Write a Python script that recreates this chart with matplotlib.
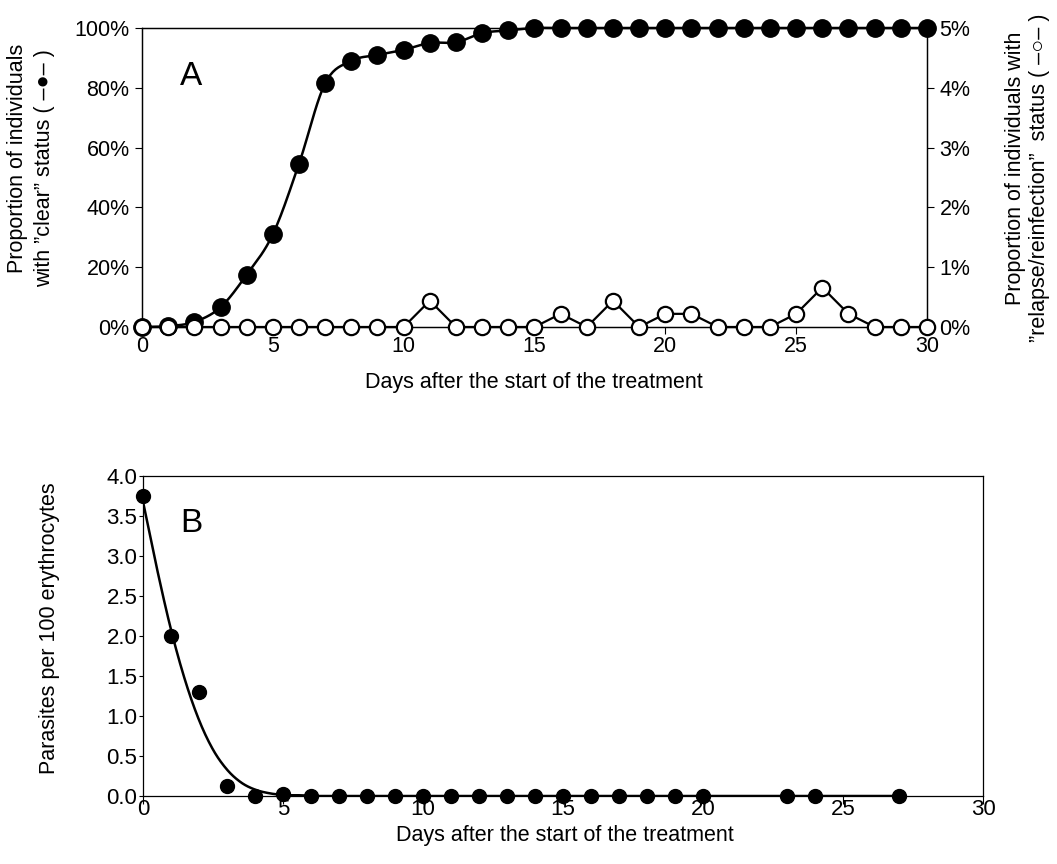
import numpy as np
import matplotlib
matplotlib.use('Agg')
import matplotlib.pyplot as plt
from matplotlib.ticker import PercentFormatter

plt.rcParams['font.family'] = ['Liberation Sans', 'DejaVu Sans']
plt.rcParams['font.size'] = 15.5

# panel A data: proportion "clear" (left axis) and "relapse/reinfection" (right axis), in %
days_a = list(range(31))
clear_pct = [0, 0.3, 1.7, 6.6, 17.5, 31, 54.6, 81.5, 89, 91, 92.7, 95, 95.2, 98.3, 99.2,
             100, 100, 100, 100, 100, 100, 100, 100, 100, 100, 100, 100, 100, 100, 100, 100]
relapse_pct = [0, 0, 0, 0, 0, 0, 0, 0, 0, 0, 0, 0.44, 0, 0, 0, 0, 0.22, 0, 0.44, 0,
               0.22, 0.22, 0, 0, 0, 0.22, 0.66, 0.22, 0, 0, 0]

# panel B data: parasite density per day and the fitted curve
days_b = list(range(21)) + [23, 24, 27]
parasites = [3.75, 2.0, 1.3, 0.12, 0.0, 0.02] + [0.0] * 15 + [0.0, 0.0, 0.0]
fit_days = [0, 0.5, 1.0, 1.5, 2.0, 2.5, 3.0, 3.5, 4.0, 4.5, 5.0, 5.5, 6.0, 7.0, 27]
fit_vals = [3.68, 2.84, 2.08, 1.45, 0.95, 0.58, 0.33, 0.17, 0.08, 0.035, 0.013, 0.004,
            0.0, 0.0, 0.0]

xlabel = 'Days after the start of the treatment'


# Excel-like smoothed line through the given points (Catmull-Rom)
def smooth_line(x, y, n=20):
    pts = np.column_stack([x, y]).astype(float)
    p = np.vstack([pts[0], pts, pts[-1]])
    out = []
    t = np.linspace(0, 1, n, endpoint=False)[:, None]
    for i in range(1, len(p) - 2):
        p0, p1, p2, p3 = p[i - 1], p[i], p[i + 1], p[i + 2]
        seg = 0.5 * ((2 * p1) + (-p0 + p2) * t + (2 * p0 - 5 * p1 + 4 * p2 - p3) * t ** 2
                     + (-p0 + 3 * p1 - 3 * p2 + p3) * t ** 3)
        out.append(seg)
    out.append(pts[-1:])
    s = np.vstack(out)
    return s[:, 0], s[:, 1]


fig = plt.figure(figsize=(10.57, 8.64), dpi=100)

# ---- panel A ----
ax = fig.add_axes([142 / 1057, 1 - 327 / 864, 785 / 1057, 299 / 864])
sx, sy = smooth_line(days_a, clear_pct)
ax.plot(sx, sy, color='black', lw=1.8, clip_on=False, zorder=3)
ax.plot(days_a, clear_pct, 'o', color='black', ms=12.5, clip_on=False, zorder=4)
ax.set_xlim(0, 30)
ax.set_ylim(0, 100)
ax.set_xticks([0, 5, 10, 15, 20, 25, 30])
ax.set_yticks([0, 20, 40, 60, 80, 100])
ax.yaxis.set_major_formatter(PercentFormatter(decimals=0))
ax.tick_params(axis='y', direction='out', length=5, width=0.8, pad=4)
ax.tick_params(axis='x', direction='out', length=5, width=0.8, pad=1.5)
ax.text(0.048, 0.809, 'A', transform=ax.transAxes, fontsize=24)

ax2 = ax.twinx()
ax2.plot(days_a, relapse_pct, '-o', color='black', lw=1.6, ms=11, mfc='white',
         mew=1.6, clip_on=False, zorder=5)
ax2.set_ylim(0, 5)
ax2.set_yticks([0, 1, 2, 3, 4, 5])
ax2.yaxis.set_major_formatter(PercentFormatter(decimals=0))
ax2.tick_params(direction='out', length=5, width=0.8, pad=4)
for a in (ax, ax2):
    for sp in a.spines.values():
        sp.set_linewidth(0.9)

fig.text(534 / 1057, 1 - 383 / 864, xlabel, ha='center', va='center')
fig.text(18 / 1057, 1 - 158 / 864, 'Proportion of individuals', rotation=90,
         ha='center', va='center')
fig.text(45 / 1057, 1 - 168 / 864, 'with \u201dclear\u201d status ( \u2013\u25CF\u2013 )',
         rotation=90, ha='center', va='center')
fig.text(1015 / 1057, 1 - 168 / 864, 'Proportion of individuals with', rotation=90,
         ha='center', va='center')
fig.text(1040 / 1057, 1 - 178 / 864,
         '\u201drelapse/reinfection\u201d  status ( \u2013\u25CB\u2013 )',
         rotation=90, ha='center', va='center')

# ---- panel B ----
bx = fig.add_axes([143 / 1057, 1 - 796 / 864, 840 / 1057, 320 / 864])
fx, fy = smooth_line(fit_days, fit_vals)
bx.plot(fx, fy, color='black', lw=1.8, zorder=3)
bx.plot(days_b, parasites, 'o', color='black', ms=10, clip_on=False, zorder=4)
bx.set_xlim(0, 30)
bx.set_ylim(0, 4)
bx.set_xticks([0, 5, 10, 15, 20, 25, 30])
bx.set_yticks(np.arange(0, 4.01, 0.5))
bx.yaxis.set_major_formatter(plt.FormatStrFormatter('%.1f'))
bx.tick_params(axis='x', direction='out', length=5.5, width=0.8, pad=-3.5, labelsize=16)
bx.tick_params(axis='y', direction='out', length=3, width=0.8, pad=1, labelsize=16)
bx.text(0.044, 0.825, 'B', transform=bx.transAxes, fontsize=24)
for sp in bx.spines.values():
    sp.set_linewidth(0.9)

fig.text(50 / 1057, 1 - 628 / 864, 'Parasites per 100 erythrocytes', rotation=90,
         ha='center', va='center')
fig.text(565 / 1057, 1 - 836 / 864, xlabel, ha='center', va='center')

fig.savefig('out.png', dpi=100)
